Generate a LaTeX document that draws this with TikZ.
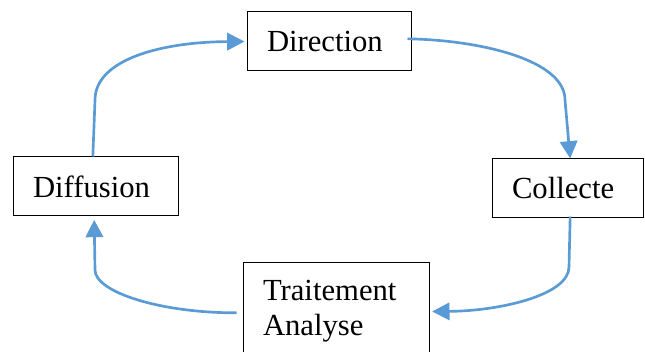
\documentclass[tikz,border=0pt]{standalone}
\usepackage{fontspec}
\setmainfont{Liberation Serif}
\usetikzlibrary{arrows.meta}
\definecolor{arrowblue}{HTML}{5B9BD5}
\tikzset{
  box/.style={draw=black, line width=0.75pt, inner xsep=15pt, align=left,
              font=\fontsize{23}{26.25}\selectfont, minimum height=44.25pt},
  conn/.style={draw=arrowblue, line width=2pt,
               -{Triangle[length=13pt,width=13pt]}}
}
\begin{document}
\begin{tikzpicture}[x=0.75pt,y=-0.75pt]
\useasboundingbox (0,0) rectangle (645,352);
\node[box, minimum width=123pt, text width=93pt] (dir) at (329,41.5) {Direction};
\node[box, minimum width=123.75pt, text width=93.75pt] (diff) at (95.5,186.5) {Diffusion};
\node[box, minimum width=113.25pt, text width=83.25pt] (col) at (567.5,188.5) {Collecte};
\node[box, minimum width=139.5pt, text width=109.5pt, minimum height=72.75pt] (trt) at (336,311.5) {Traitement\\Analyse};
\draw[conn] ([xshift=-2pt]diff.north) -- (95,100) .. controls (95,60) and (160,42) .. ([xshift=-1.5pt]dir.west);
\draw[conn] ([xshift=-3pt,yshift=2pt]dir.east) .. controls (480,40) and (565,60) .. (565,100) -- ([xshift=2pt]col.north);
\draw[conn] ([xshift=2pt,yshift=1.5pt]col.south) -- (569,267) .. controls (569,295) and (500,311) .. ([xshift=2pt]trt.east);
\draw[conn] ([xshift=-4.5pt,yshift=-1pt]trt.west) .. controls (160,313) and (95,292) .. (95,270) -- ([xshift=-1pt,yshift=-2.5pt]diff.south);
\end{tikzpicture}
\end{document}
